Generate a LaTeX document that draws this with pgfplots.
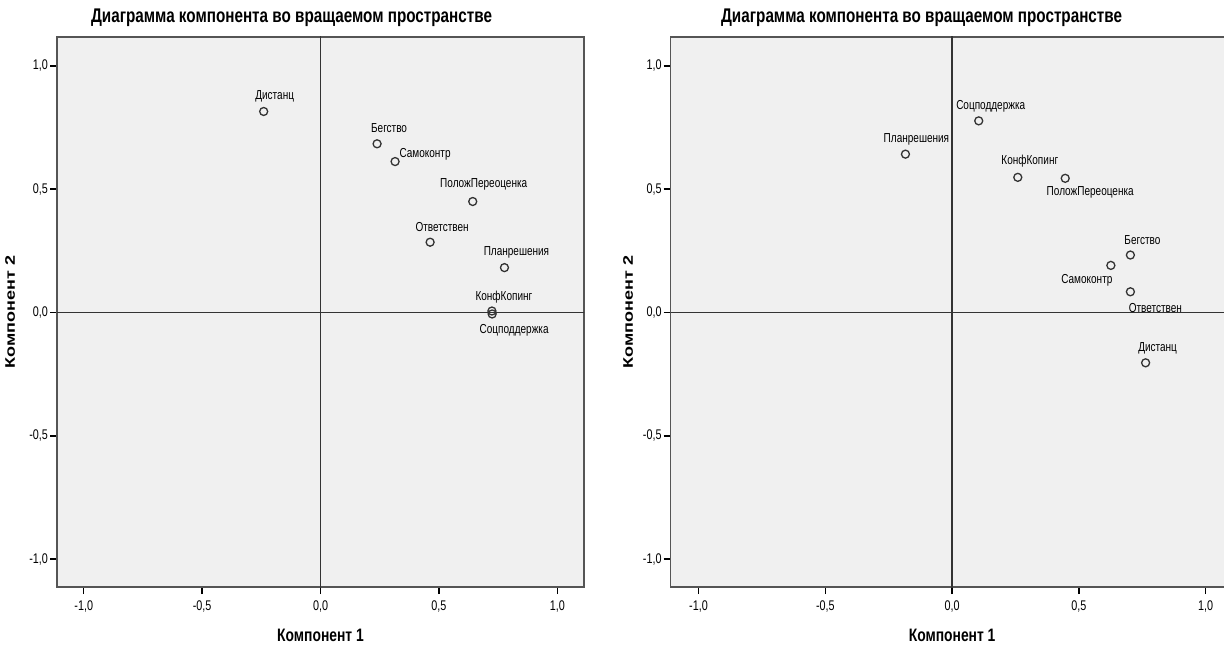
\documentclass[border=0pt]{standalone}
\usepackage{fontspec}
\setmainfont{Liberation Sans}[FakeStretch=0.77]
\newfontfamily\plainfont{Liberation Sans}
\usepackage{graphicx}
\usepackage{pgfplots}
\pgfplotsset{compat=1.18}
\usepackage{pgfplotstable}

\definecolor{bgc}{HTML}{F0F0F0}
\definecolor{framec}{HTML}{555555}
\definecolor{zl}{HTML}{333333}

% x y lab dx(pt) dy(pt, up)
\pgfplotstableread{
x y lab dx dy
-0.240 0.815 Дистанц 5.5 7.5
0.239 0.684 Бегство 6 8
0.315 0.612 Самоконтр 15 3.5
0.643 0.450 ПоложПереоценка 5.5 8.5
0.463 0.285 Ответствен 6 7.5
0.777 0.182 Планрешения 6 7.5
0.724 0.006 КонфКопинг 6 7
0.725 -0.006 Соцподдержка 11 -8
}\leftdata

\pgfplotstableread{
x y lab dx dy
0.105 0.777 Соцподдержка 6 7.5
-0.184 0.642 Планрешения 5.5 7.5
0.259 0.548 КонфКопинг 6 8
0.446 0.544 ПоложПереоценка 12.5 -7
0.703 0.233 Бегство 6 7.5
0.626 0.191 Самоконтр -12 -7.5
0.703 0.084 Ответствен 12.5 -8
0.763 -0.204 Дистанц 6 7
}\rightdata

\pgfplotsset{
  spss/.style={
    scale only axis,
    height=275pt,
    ymin=-1.113, ymax=1.117,
    axis background/.style={fill=bgc},
    axis line style={framec, line width=0.7pt},
    tick align=outside, major tick length=3.5pt,
    major tick style={draw=black, line width=0.7pt},
    xtick={-1,-0.5,0,0.5,1}, ytick={-1,-0.5,0,0.5,1},
    xticklabels={{-1,0},{-0,5},{0,0},{0,5},{1,0}},
    yticklabels={{-1,0},{-0,5},{0,0},{0,5},{1,0}},
    xtick pos=left, ytick pos=left,
    tick label style={font=\fontsize{7}{8}\selectfont},
    yticklabel style={xshift=2.5pt},
    xlabel={Компонент 1},
    ylabel={\scalebox{1}[0.77]{\plainfont\bfseries Компонент 2}},
    xlabel style={font=\fontsize{9}{10}\selectfont\bfseries, at={(axis description cs:0.5,-0.0873)}, anchor=center},
    ylabel style={font=\fontsize{9}{10}\selectfont, anchor=center},
    title={Диаграмма компонента во вращаемом пространстве},
    every axis title/.style={at={(0.5,1)}, anchor=center,
      font=\fontsize{9.9}{11}\selectfont\bfseries},
    clip=true,
  },
  pts/.style={only marks, mark=o, mark size=2pt, mark options={line width=0.65pt, draw=zl},
    point meta=explicit symbolic, nodes near coords,
    visualization depends on={\thisrow{dx}\as\dx},
    visualization depends on={\thisrow{dy}\as\dy},
    every node near coord/.append style={anchor=center, inner sep=0pt, text=black,
      font=\fontsize{6.5}{7}\selectfont, xshift=\dx pt, yshift=\dy pt}},
}

\begin{document}
\begin{tikzpicture}
\begin{axis}[spss, at={(28.5pt,28.5pt)}, anchor=south west, width=263.5pt,
  xmin=-1.113, xmax=1.113,
  ylabel style={at={(axis description cs:-0.0892,0.5)}},
  title style={at={(axis description cs:0.445,1.0345)}}]
  \draw[zl, line width=0.9pt] (axis cs:0,-1.2) -- (axis cs:0,1.2);
  \draw[zl, line width=0.9pt] (axis cs:-1.2,0) -- (axis cs:1.2,0);
  \addplot[pts] table[x=x, y=y, meta=lab] {\leftdata};
\end{axis}
\begin{axis}[spss, at={(335.3pt,28.5pt)}, anchor=south west, width=281.5pt,
  xmin=-1.11, xmax=1.11,
  ylabel style={at={(axis description cs:-0.0757,0.5)}},
  title style={at={(axis description cs:0.4458,1.0345)}}]
  \draw[zl, line width=0.9pt] (axis cs:0,-1.2) -- (axis cs:0,1.2);
  \draw[zl, line width=0.9pt] (axis cs:-1.2,0) -- (axis cs:1.2,0);
  \addplot[pts] table[x=x, y=y, meta=lab] {\rightdata};
\end{axis}
\pgfresetboundingbox
\path (0,0) rectangle (612pt,322pt);
\end{tikzpicture}
\end{document}
